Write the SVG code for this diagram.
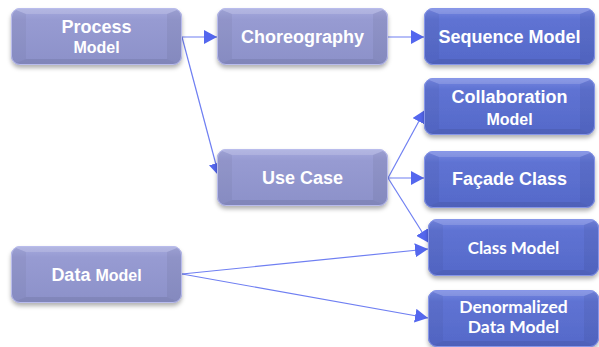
<svg xmlns="http://www.w3.org/2000/svg" xmlns:xlink="http://www.w3.org/1999/xlink" width="599" height="347" viewBox="0 0 599 347">
  <defs>
    <style>
      .lbl { font-family: "Liberation Sans", Arial, sans-serif; font-weight: bold; fill: #ffffff; text-anchor: middle; }
      .lbl2 { font-family: Lato, "Liberation Sans", sans-serif; font-weight: bold; fill: #ffffff; text-anchor: middle; }
      .conn { fill: none; stroke: #6f7ff2; stroke-width: 1.2; marker-end: url(#arrow); }
    </style>
    <marker id="arrow" markerUnits="userSpaceOnUse" markerWidth="14" markerHeight="14" refX="13" refY="7" orient="auto" viewBox="0 0 14 14">
      <path d="M0,0 L13,7 L0,14 z" fill="#5467ee"/>
    </marker>
    <filter id="shadow" x="-10%" y="-20%" width="120%" height="150%">
      <feDropShadow dx="0" dy="3" stdDeviation="2" flood-color="#000000" flood-opacity="0.3"/>
    </filter>
    <linearGradient id="gLav" x1="0" y1="0" x2="0" y2="1">
      <stop offset="0" stop-color="#a6aade"/>
      <stop offset="0.2" stop-color="#979bd2"/>
      <stop offset="1" stop-color="#8c91c9"/>
    </linearGradient>
    <linearGradient id="gBlue" x1="0" y1="0" x2="0" y2="1">
      <stop offset="0" stop-color="#7687e2"/>
      <stop offset="0.2" stop-color="#5f73d3"/>
      <stop offset="1" stop-color="#5569c9"/>
    </linearGradient>
    <clipPath id="boxClip">
      <rect x="0" y="0" width="171" height="57" rx="9"/>
    </clipPath>
    <!-- bevelled frame shared by every box -->
    <g id="bevel" clip-path="url(#boxClip)">
      <polygon points="0,0 171,0 156,6 15,6" fill="#ffffff" fill-opacity="0.16"/>
      <polygon points="0,57 171,57 156,51 15,51" fill="#000000" fill-opacity="0.08"/>
      <polygon points="0,0 15,6 15,51 0,57" fill="#000000" fill-opacity="0.04"/>
      <polygon points="171,0 156,6 156,51 171,57" fill="#000000" fill-opacity="0.05"/>
    </g>
    <g id="boxLav">
      <rect x="0" y="0" width="171" height="57" rx="9" fill="url(#gLav)" filter="url(#shadow)"/>
      <use xlink:href="#bevel"/>
      <rect x="0.5" y="0.5" width="170" height="56" rx="8.5" fill="none" stroke="#b9bcec" stroke-width="1"/>
    </g>
    <g id="boxBlue">
      <rect x="0" y="0" width="171" height="57" rx="9" fill="url(#gBlue)" filter="url(#shadow)"/>
      <use xlink:href="#bevel"/>
      <rect x="0.5" y="0.5" width="170" height="56" rx="8.5" fill="none" stroke="#8796e8" stroke-width="1"/>
    </g>
  </defs>

  <g id="connectors">
    <line class="conn" x1="182" y1="37" x2="217" y2="37"/>
    <line class="conn" x1="182" y1="37" x2="219" y2="176"/>
    <line class="conn" x1="388" y1="37" x2="424" y2="37"/>
    <line class="conn" x1="388" y1="178" x2="425" y2="110"/>
    <line class="conn" x1="388" y1="178" x2="424" y2="178"/>
    <line class="conn" x1="388" y1="178" x2="429" y2="243"/>
    <line class="conn" x1="182" y1="274" x2="428" y2="249"/>
    <line class="conn" x1="182" y1="274" x2="428" y2="318"/>
  </g>

  <g id="process-model" transform="translate(11,8)">
    <use xlink:href="#boxLav"/>
    <text class="lbl" x="85.5" y="25" font-size="18">Process</text>
    <text class="lbl" x="85.5" y="45" font-size="16">Model</text>
  </g>

  <g id="choreography" transform="translate(217,8)">
    <use xlink:href="#boxLav"/>
    <text class="lbl" x="85.5" y="35" font-size="18">Choreography</text>
  </g>

  <g id="sequence-model" transform="translate(424,8)">
    <use xlink:href="#boxBlue"/>
    <text class="lbl" x="85.5" y="35" font-size="18">Sequence Model</text>
  </g>

  <g id="collaboration-model" transform="translate(424,78)">
    <use xlink:href="#boxBlue"/>
    <text class="lbl" x="85.5" y="25" font-size="18">Collaboration</text>
    <text class="lbl" x="85.5" y="47" font-size="16">Model</text>
  </g>

  <g id="facade-class" transform="translate(424,151)">
    <use xlink:href="#boxBlue"/>
    <text class="lbl" x="85.5" y="34" font-size="18">Façade Class</text>
  </g>

  <g id="use-case" transform="translate(217,149)">
    <use xlink:href="#boxLav"/>
    <text class="lbl" x="85.5" y="35" font-size="18">Use Case</text>
  </g>

  <g id="data-model" transform="translate(11,246)">
    <use xlink:href="#boxLav"/>
    <text class="lbl" x="85.5" y="35" font-size="18">Data <tspan font-size="16">Model</tspan></text>
  </g>

  <g id="class-model" transform="translate(428,219)">
    <use xlink:href="#boxBlue"/>
    <text class="lbl2" x="85.5" y="35" font-size="17">Class Model</text>
  </g>

  <g id="denormalized-data-model" transform="translate(428,290)">
    <use xlink:href="#boxBlue"/>
    <text class="lbl2" x="85.5" y="23" font-size="17.5">Denormalized</text>
    <text class="lbl2" x="85.5" y="43" font-size="17.5">Data Model</text>
  </g>
</svg>
